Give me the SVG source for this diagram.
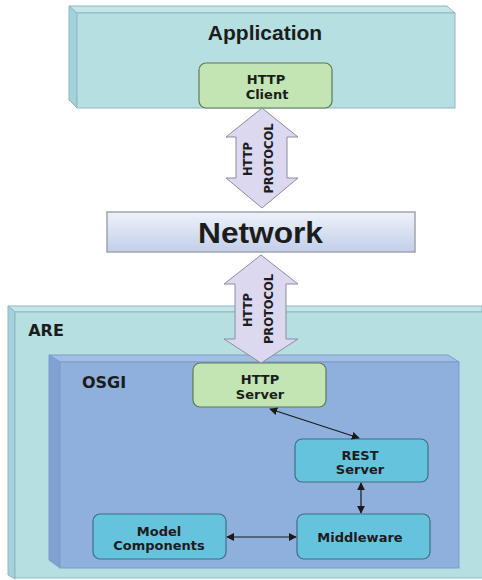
<svg xmlns="http://www.w3.org/2000/svg" width="482" height="580" viewBox="0 0 482 580">
<style>
text{font-family:"Liberation Sans",Arial,sans-serif;font-weight:bold;fill:#1c1c1c;text-anchor:middle}
.slabA{fill:#b5dfe1;stroke:#8fb8c4;stroke-width:1}
.slabAside{fill:#a4d2da;stroke:#8fb8c4;stroke-width:1}
.slabAtop{fill:#c4e6e8;stroke:#8fb8c4;stroke-width:1}
.osgi{fill:#8fb0dc;stroke:#7d9cc8;stroke-width:1}
.osgiside{fill:#7fa2d2;stroke:#7d9cc8;stroke-width:1}
.osgitop{fill:#a2bee4;stroke:#7d9cc8;stroke-width:1}
.green{fill:#c3e5b3;stroke:#5d7a55;stroke-width:1.2}
.cyan{fill:#66c3de;stroke:#3d6f88;stroke-width:1.2}
.barrow{fill:#dcd8f0;stroke:#8c8ca0;stroke-width:1}
.lbl{font-family:"DejaVu Sans",Verdana,sans-serif;font-size:13px}
.plbl{font-family:"DejaVu Sans",Verdana,sans-serif;font-size:11.5px}
.big{font-family:"DejaVu Sans",Verdana,sans-serif;font-size:16px}
.conn{stroke:#1a1a1a;stroke-width:1.2;fill:none;marker-start:url(#ah);marker-end:url(#ah)}
</style>
<defs>
<linearGradient id="net" x1="0" y1="0" x2="0" y2="1">
<stop offset="0" stop-color="#eef2fa"/>
<stop offset="1" stop-color="#c2cee8"/>
</linearGradient>
<marker id="ah" viewBox="0 0 10 10" refX="9" refY="5" markerWidth="8" markerHeight="8" orient="auto-start-reverse" markerUnits="userSpaceOnUse">
<path d="M0,0 L10,5 L0,10 z" fill="#1a1a1a"/>
</marker>
</defs>

<g id="application">
<polygon class="slabAtop" points="69,6 447,6 455,13 77,13"/>
<polygon class="slabAside" points="69,6 77,13 77,108 69,100"/>
<rect class="slabA" x="77" y="13" width="378" height="95"/>
<text x="265" y="40" font-size="21">Application</text>
</g>

<g id="http-client">
<rect class="green" x="199" y="63" width="133" height="45" rx="7"/>
<text class="lbl" x="266" y="84">HTTP</text>
<text class="lbl" x="267" y="99">Client</text>
</g>

<g id="network">
<rect x="107" y="212" width="308" height="40" fill="url(#net)" stroke="#a0a4ac" stroke-width="1.5"/>
<text x="260.5" y="243" font-size="29" fill="#222" textLength="125" lengthAdjust="spacingAndGlyphs">Network</text>
</g>

<g id="are">
<polygon class="slabAtop" points="8,306 482,306 482,312 15,312"/>
<polygon class="slabAside" points="8,306 15,312 15,579 8,575"/>
<rect class="slabA" x="15" y="312" width="470" height="266"/>
<text class="big" x="46" y="336">ARE</text>
</g>

<g id="osgi">
<polygon class="osgitop" points="49,355 448,355 459,362 60,362"/>
<polygon class="osgiside" points="49,355 60,362 60,568 49,560"/>
<rect class="osgi" x="60" y="362" width="399" height="206"/>
<text class="big" x="104" y="388" fill="#1a2740">OSGI</text>
</g>

<g id="http-server">
<rect class="green" x="193" y="363" width="133" height="44" rx="7"/>
<text class="lbl" x="260" y="384">HTTP</text>
<text class="lbl" x="260" y="399">Server</text>
</g>

<g id="rest-server">
<rect class="cyan" x="295" y="439" width="133" height="43" rx="7"/>
<text class="lbl" x="360" y="460">REST</text>
<text class="lbl" x="360" y="474">Server</text>
</g>

<g id="middleware">
<rect class="cyan" x="297" y="514" width="133" height="45" rx="7"/>
<text class="lbl" x="360" y="542">Middleware</text>
</g>

<g id="model-components">
<rect class="cyan" x="93" y="514" width="133" height="45" rx="7"/>
<text class="lbl" x="159" y="536">Model</text>
<text class="lbl" x="159" y="550">Components</text>
</g>

<g id="connectors">
<g id="proto1">
<polygon class="barrow" points="262,108 298,137 287,137 287,178 298,178 262,208 226,178 236,178 236,137 226,137"/>
<text class="plbl" transform="translate(252,159) rotate(-90)">HTTP</text>
<text class="plbl" transform="translate(273,158.5) rotate(-90)">PROTOCOL</text>
</g>
<g id="proto2">
<polygon class="barrow" points="261,255 298,284 286,284 286,339 298,339 261,363 224,339 235,339 235,284 224,284"/>
<text class="plbl" transform="translate(252,310) rotate(-90)">HTTP</text>
<text class="plbl" transform="translate(273,309) rotate(-90)">PROTOCOL</text>
</g>
<line class="conn" x1="270" y1="409" x2="359" y2="438"/>
<line class="conn" x1="361" y1="483" x2="361" y2="513"/>
<line class="conn" x1="227" y1="537" x2="296" y2="537"/>
</g>
</svg>
